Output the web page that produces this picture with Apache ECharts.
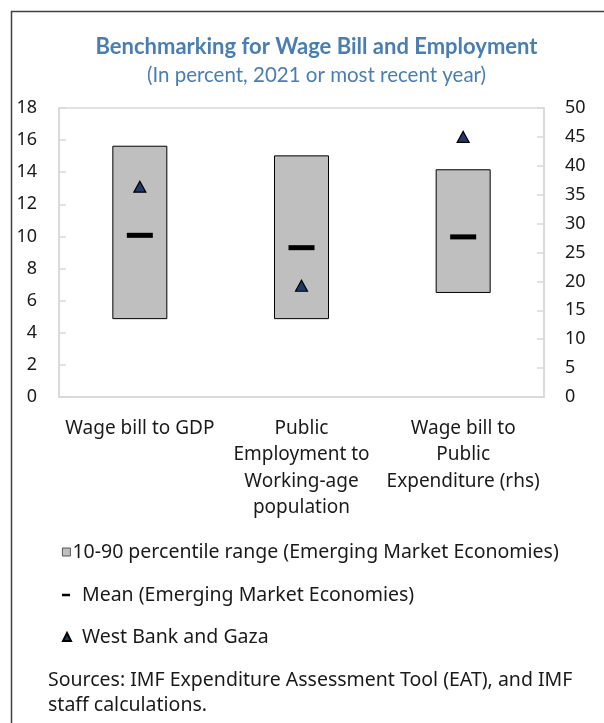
<!DOCTYPE html>
<html>
<head>
<meta charset="utf-8">
<script src="https://cdn.jsdelivr.net/npm/echarts@6/dist/echarts.min.js"></script>
<style>
html,body{margin:0;padding:0;background:#fff;}
#chart{width:604px;height:723px;}
</style>
</head>
<body>
<div id="chart"></div>
<script>
// ---- Data ----
var categories = ['Wage bill to GDP', 'Public\nEmployment to\nWorking-age\npopulation', 'Wage bill to\nPublic\nExpenditure (rhs)'];
var axisSide = ['left', 'left', 'right'];          // which y-axis each category uses
var p10 = [4.85, 4.85, 18.0];                      // 10th percentile (EMEs)
var p90 = [15.65, 15.05, 39.4];                    // 90th percentile (EMEs)
var meanEME = [10.07, 9.3, 27.7];                  // mean (EMEs)
var westBankGaza = [13.1, 6.93, 45.0];             // West Bank and Gaza
var leftTicks = {min: 0, max: 18, interval: 2};
var rightTicks = {min: 0, max: 50, interval: 5};

var NAME_RANGE = '10-90 percentile range (Emerging Market Economies)';
var NAME_MEAN = 'Mean (Emerging Market Economies)';
var NAME_WBG = 'West Bank and Gaza';

function pick(arr, side) {
  return arr.map(function (v, i) { return axisSide[i] === side ? v : '-'; });
}
function spanFor(side) {
  return p90.map(function (v, i) { return axisSide[i] === side ? +(v - p10[i]).toFixed(4) : '-'; });
}

var FONT = '"Noto Sans", "Open Sans", sans-serif';
var TXT = '#1a1a1a';
var BLUE = '#4a7eb3';
var GRID = '#d9d9d9';
var BODY = 19.5;

var chart = echarts.init(document.getElementById('chart'), null, {renderer: 'canvas'});

var barCommon = {type: 'bar', barWidth: 55, barGap: '-100%', silent: true};
var rangeStyle = {color: '#bfbfbf', borderColor: '#000', borderWidth: 1};

function legendTxt(pad) {
  return {color: TXT, fontSize: BODY, fontFamily: FONT, padding: [0, 0, 0, pad]};
}

var option = {
  animation: false,
  backgroundColor: '#fff',
  textStyle: {fontFamily: FONT},
  grid: {left: 59, right: 60, top: 108, bottom: 326, show: true, borderColor: GRID, borderWidth: 1.5, containLabel: false},
  xAxis: {
    type: 'category',
    data: categories,
    axisLine: {show: true, lineStyle: {color: GRID, width: 1.5}},
    axisTick: {show: false},
    axisLabel: {color: TXT, fontSize: 19, fontFamily: FONT, lineHeight: 26.5, margin: 18, interval: 0, align: 'center'}
  },
  yAxis: [
    {
      type: 'value', min: leftTicks.min, max: leftTicks.max, interval: leftTicks.interval,
      axisLine: {show: true, lineStyle: {color: GRID, width: 1.5}},
      axisTick: {show: true, inside: true, length: 7, lineStyle: {color: GRID, width: 1.5}},
      splitLine: {show: false},
      axisLabel: {color: TXT, fontSize: 18, fontFamily: FONT, margin: 22}
    },
    {
      type: 'value', position: 'right', min: rightTicks.min, max: rightTicks.max, interval: rightTicks.interval,
      axisLine: {show: true, lineStyle: {color: GRID, width: 1.5}},
      axisTick: {show: true, inside: true, length: 7, lineStyle: {color: GRID, width: 1.5}},
      splitLine: {show: false},
      axisLabel: {color: TXT, fontSize: 18, fontFamily: FONT, margin: 21}
    }
  ],
  legend: [
    {
      data: [{name: NAME_RANGE, icon: 'rect', itemStyle: {color: '#bfbfbf', borderColor: '#333', borderWidth: 0.8}}],
      left: 62, top: 542, itemWidth: 8, itemHeight: 8, padding: 0,
      textStyle: legendTxt(-3), selectedMode: false
    },
    {
      data: [{name: NAME_MEAN, icon: 'rect'}],
      left: 62, top: 585, itemWidth: 8, itemHeight: 2.5, padding: 0,
      textStyle: legendTxt(7), selectedMode: false
    },
    {
      data: [{name: NAME_WBG, icon: 'triangle'}],
      left: 62, top: 627, itemWidth: 8, itemHeight: 8, padding: 0,
      textStyle: legendTxt(6), selectedMode: false
    }
  ],
  graphic: [
    {type: 'rect', z: -10, shape: {x: 11.5, y: 11.5, width: 700, height: 800},
     style: {fill: 'none', stroke: '#404040', lineWidth: 1.5}, silent: true},
    {type: 'text', x: 316.5, y: 47, silent: true,
     style: {text: 'Benchmarking for Wage Bill and Employment', fill: BLUE,
             font: 'bold 22px Lato, "Noto Sans", sans-serif', align: 'center', verticalAlign: 'middle',
             textAlign: 'center', textVerticalAlign: 'middle'}},
    {type: 'text', x: 316.5, y: 75, silent: true,
     style: {text: '(In percent, 2021 or most recent year)', fill: BLUE,
             font: '20.5px Lato, "Noto Sans", sans-serif', align: 'center', verticalAlign: 'middle',
             textAlign: 'center', textVerticalAlign: 'middle'}},
    {type: 'text', x: 48, y: 692.5, silent: true,
     style: {text: 'Sources: IMF Expenditure Assessment Tool (EAT), and IMF\nstaff calculations.', fill: TXT,
             font: BODY + 'px "Noto Sans", sans-serif', lineHeight: 25, align: 'left', verticalAlign: 'middle',
             textAlign: 'left', textVerticalAlign: 'middle'}}
  ],
  series: [
    Object.assign({}, barCommon, {name: 'baseL', stack: 'L', yAxisIndex: 0, data: pick(p10, 'left'),
      itemStyle: {color: 'rgba(0,0,0,0)'}}),
    Object.assign({}, barCommon, {name: NAME_RANGE, stack: 'L', yAxisIndex: 0, data: spanFor('left'),
      itemStyle: rangeStyle}),
    Object.assign({}, barCommon, {name: 'baseR', stack: 'R', yAxisIndex: 1, data: pick(p10, 'right'),
      itemStyle: {color: 'rgba(0,0,0,0)'}}),
    Object.assign({}, barCommon, {name: NAME_RANGE, stack: 'R', yAxisIndex: 1, data: spanFor('right'),
      itemStyle: rangeStyle}),
    {type: 'scatter', name: NAME_MEAN, yAxisIndex: 0, data: pick(meanEME, 'left'), symbol: 'rect',
     symbolSize: [26, 5], itemStyle: {color: '#000', opacity: 1}, z: 5, silent: true},
    {type: 'scatter', name: NAME_MEAN, yAxisIndex: 1, data: pick(meanEME, 'right'), symbol: 'rect',
     symbolSize: [26, 5], itemStyle: {color: '#000', opacity: 1}, z: 5, silent: true},
    {type: 'scatter', name: NAME_WBG, yAxisIndex: 0, data: pick(westBankGaza, 'left'), symbol: 'triangle',
     symbolSize: [12, 11], itemStyle: {color: '#1f3a68', borderColor: '#000', borderWidth: 1.2, opacity: 1}, z: 6, silent: true},
    {type: 'scatter', name: NAME_WBG, yAxisIndex: 1, data: pick(westBankGaza, 'right'), symbol: 'triangle',
     symbolSize: [12, 11], itemStyle: {color: '#1f3a68', borderColor: '#000', borderWidth: 1.2, opacity: 1}, z: 6, silent: true}
  ]
};
chart.setOption(option);
</script>
</body>
</html>
